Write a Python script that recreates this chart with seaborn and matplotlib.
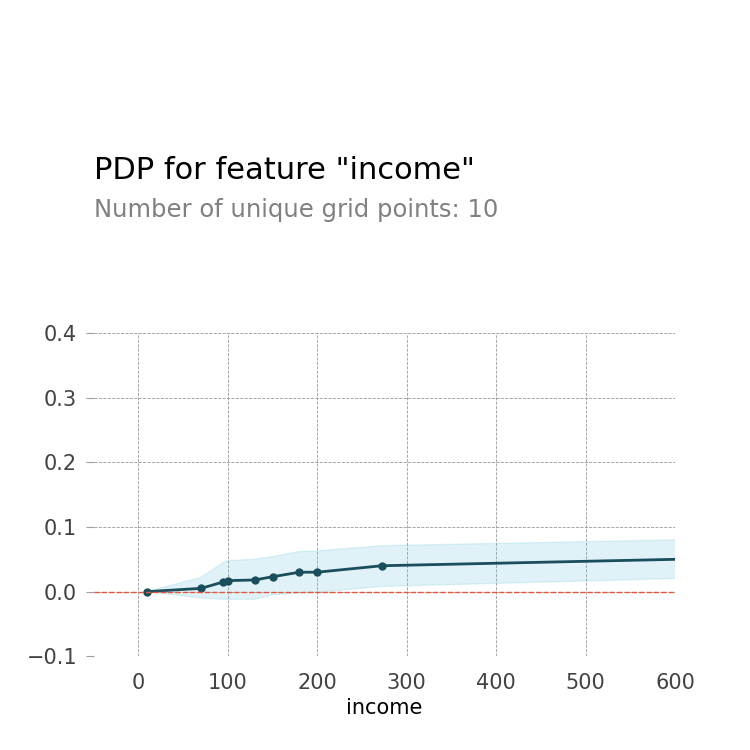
import numpy as np
import pandas as pd
import matplotlib
matplotlib.use("Agg")
import matplotlib.pyplot as plt
import seaborn as sns

# grid points and PDP values
income = [10, 70, 95, 100, 130, 150, 180, 200, 272, 1000]
pdp = [0.0, 0.005, 0.015, 0.017, 0.018, 0.023, 0.030, 0.030, 0.040, 0.062]
upper = [0.0, 0.022, 0.045, 0.048, 0.050, 0.054, 0.062, 0.063, 0.071, 0.091]
lower = [0.0, -0.010, -0.012, -0.012, -0.012, -0.005, -0.002, -0.001, 0.008, 0.035]
xticks = [0, 100, 200, 300, 400, 500, 600]
yticks = [-0.1, 0.0, 0.1, 0.2, 0.3, 0.4]

df = pd.DataFrame({"income": income, "pdp": pdp})

sns.set_style("white")
plt.rcParams['font.family'] = ['DejaVu Sans']

fig = plt.figure(figsize=(7.5, 7.5), dpi=100)
fig.text(0.125, 0.773, 'PDP for feature "income"', fontsize=22, va="center",
         color="black")
fig.text(0.125, 0.72, "Number of unique grid points: 10", fontsize=17.5,
         color="grey", va="center")

ax = fig.add_axes([0.125, 0.125, 0.775, 0.431])
ax.fill_between(income, lower, upper, color="#66C2D7", alpha=0.2)
sns.lineplot(data=df, x="income", y="pdp", ax=ax, color="#1A4E5D",
             linewidth=2, marker="o", markersize=6, markeredgewidth=0)
ax.axhline(0, color="#E75438", linestyle="--", linewidth=1)

ax.set_xlim(-50, 600)
ax.set_ylim(-0.1, 0.4)
ax.set_xticks(xticks)
ax.set_yticks(yticks)
ax.set_yticklabels([f"{v:.1f}".replace("-", "\u2212") for v in yticks])
ax.grid(True, linestyle="--", linewidth=0.6, color="#999999")
for s in ax.spines.values():
    s.set_visible(False)
ax.tick_params(axis="both", labelsize=15, labelcolor="#424242", colors="#9E9E9E",
               length=6, left=True, bottom=False, pad=6)
ax.tick_params(axis="x", labelcolor="#424242")
ax.set_xlabel("income", fontsize=15, color="black")
ax.set_ylabel("")

fig.savefig("out.png", dpi=100)
